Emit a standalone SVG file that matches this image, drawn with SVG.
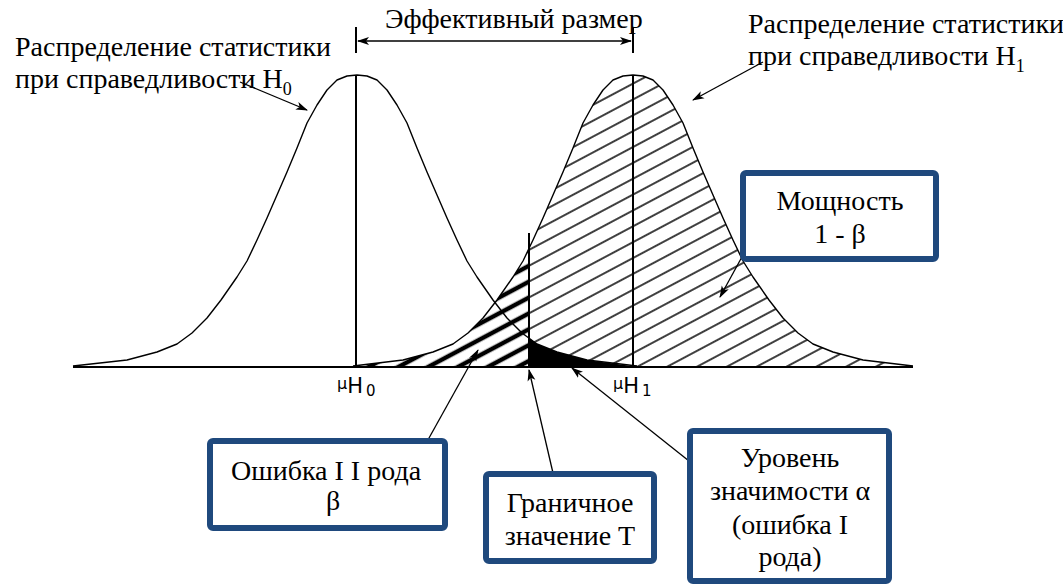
<svg xmlns="http://www.w3.org/2000/svg" width="1063" height="586" viewBox="0 0 1063 586">
<style>
.t{font-family:"Liberation Serif","Times New Roman",serif;font-size:28px;fill:#000}
.c{text-anchor:middle}
.mu{font-family:"DejaVu Sans",sans-serif;fill:#000}
.curve{fill:none;stroke:#000;stroke-width:1.4;stroke-linejoin:round}
.vl{stroke:#000;stroke-width:2}
.box{fill:#fff;stroke:#1f497d;stroke-width:6}
.con{fill:none;stroke:#000;stroke-width:1.3}
</style>
<defs>
<pattern id="hThin" patternUnits="userSpaceOnUse" width="20" height="14" patternTransform="rotate(-28)">
<line x1="0" y1="7" x2="20" y2="7" stroke="#000" stroke-width="1.5"/>
</pattern>
<pattern id="hBold" patternUnits="userSpaceOnUse" width="20" height="14" patternTransform="rotate(-28)">
<line x1="0" y1="7" x2="20" y2="7" stroke="#000" stroke-width="4.5"/>
</pattern>
<marker id="ah" viewBox="0 0 12 10" refX="11" refY="5" markerWidth="12" markerHeight="10" markerUnits="userSpaceOnUse" orient="auto-start-reverse">
<path d="M0,1 L12,5 L0,9 L3,5 Z" fill="#000"/>
</marker>
</defs>

<g id="areas">
<polygon fill="url(#hBold)" points="353,366 403,360 433,352 453,344 468,333 483,318 497,300 513,277 523,261 529,248 529,367 353,367"/>
<polygon fill="url(#hThin)" points="529,248 533,240 543,218 553,195 563,172 573,148 583,123 593,105 603,90 613,80 623,76 633,75 643,76 653,80 663,90 673,105 683,123 693,148 703,172 713,195 723,218 733,240 743,261 753,277 769,300 783,318 798,333 813,344 833,352 863,360 913,366 913,367 529,367"/>
<polygon fill="#000" points="529,338 537,344 557,352 587,360 632,366 632,368 529,368"/>
</g>

<g id="curve-h0">
<polyline class="curve" points="73,366 127,360 157,352 177,344 192,333 207,318 221,300 237,277 247,261 257,240 267,218 277,195 287,172 297,148 307,123 317,105 327,90 337,80 347,76 357,75 367,76 377,80 387,90 397,105 407,123 417,148 427,172 437,195 447,218 457,240 467,261 477,277 493,300 507,318 522,333 537,344 557,352 587,360 637,366"/>
<line class="vl" x1="356" y1="75" x2="356" y2="367"/>
</g>
<g id="curve-h1">
<polyline class="curve" points="353,366 403,360 433,352 453,344 468,333 483,318 497,300 513,277 523,261 533,240 543,218 553,195 563,172 573,148 583,123 593,105 603,90 613,80 623,76 633,75 643,76 653,80 663,90 673,105 683,123 693,148 703,172 713,195 723,218 733,240 743,261 753,277 769,300 783,318 798,333 813,344 833,352 863,360 913,366"/>
<line class="vl" x1="633" y1="75" x2="633" y2="367"/>
</g>
<g id="axis">
<line x1="73" y1="367" x2="913" y2="367" stroke="#000" stroke-width="2.2"/>
<line class="vl" x1="529" y1="233" x2="529" y2="367"/>
<text class="mu" x="337" y="393"><tspan font-size="16" dy="-4">μ</tspan><tspan font-size="21" dy="4">H</tspan><tspan font-size="15" dx="3" dy="3">0</tspan></text>
<text class="mu" x="613" y="393"><tspan font-size="16" dy="-4">μ</tspan><tspan font-size="21" dy="4">H</tspan><tspan font-size="15" dx="3" dy="3">1</tspan></text>
</g>

<g id="label-h0">
<text class="t" x="15" y="56">Распределение статистики</text>
<text class="t" x="15" y="88">при справедливости H<tspan font-size="18" dy="7">0</tspan></text>
</g>
<g id="label-h1">
<text class="t" x="748" y="33" font-size="27.5">Распределение статистики</text>
<text class="t" x="748" y="65" font-size="27.5">при справедливости H<tspan font-size="18" dy="7">1</tspan></text>
</g>
<g id="effect-size">
<line class="vl" x1="356" y1="27" x2="356" y2="53"/>
<line class="vl" x1="633" y1="27" x2="633" y2="53"/>
<text class="t" x="385" y="28">Эффективный размер</text>
</g>

<g id="connectors">
<line class="con" x1="358" y1="41" x2="631" y2="41" marker-start="url(#ah)" marker-end="url(#ah)"/>
<line class="con" x1="240" y1="82" x2="307" y2="110" marker-end="url(#ah)"/>
<line class="con" x1="763" y1="62" x2="693" y2="100" marker-end="url(#ah)"/>
<line class="con" x1="743" y1="255" x2="720" y2="297" marker-end="url(#ah)"/>
<line class="con" x1="424" y1="447" x2="478" y2="350" marker-end="url(#ah)"/>
<line class="con" x1="553" y1="473" x2="529" y2="370" marker-end="url(#ah)"/>
<line class="con" x1="689" y1="461" x2="572" y2="368" marker-end="url(#ah)"/>
</g>

<g id="box-power">
<rect class="box" x="743" y="173" width="193" height="86" rx="3"/>
<text class="t c" x="840" y="210">Мощность</text>
<text class="t c" x="840" y="243">1 - β</text>
</g>
<g id="box-type2">
<rect class="box" x="210" y="441" width="235" height="87" rx="3"/>
<text class="t c" x="326" y="480">Ошибка I I рода</text>
<text class="t c" x="333" y="510">β</text>
</g>
<g id="box-threshold">
<rect class="box" x="486" y="474" width="168" height="87" rx="3"/>
<text class="t c" x="570" y="512">Граничное</text>
<text class="t c" x="570" y="545">значение Т</text>
</g>
<g id="box-alpha">
<rect class="box" x="690" y="431" width="199" height="150" rx="3"/>
<text class="t c" x="790" y="467">Уровень</text>
<text class="t c" x="790" y="500">значимости α</text>
<text class="t c" x="790" y="534">(ошибка I</text>
<text class="t c" x="790" y="566">рода)</text>
</g>
</svg>
